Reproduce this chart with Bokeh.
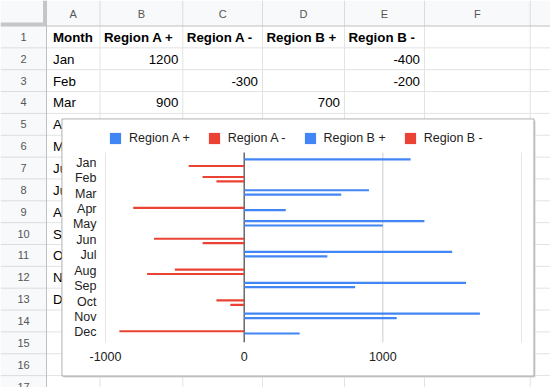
from bokeh.plotting import figure
from bokeh.models import (Range1d, ColumnDataSource, Legend, LegendItem, FixedTicker)
from bokeh.transform import dodge
from bokeh.layouts import column
from bokeh.core.properties import value
from bokeh.embed import file_html
from bokeh.resources import INLINE

# ---------------- data ----------------
months = ["Jan", "Feb", "Mar", "Apr", "May", "Jun", "Jul", "Aug", "Sep", "Oct", "Nov", "Dec"]
region_a_pos = [1200, None, 900, None, 1300, None, 1500, None, 1600, None, 1700, None]
region_a_neg = [None, -300, None, -800, None, -650, None, -500, None, -200, None, -900]
region_b_pos = [None, None, 700, 300, 1000, None, 600, None, 800, None, 1100, 400]
region_b_neg = [-400, -200, None, None, None, -300, None, -700, None, -100, None, None]
series_names = ["Region A +", "Region A -", "Region B +", "Region B -"]
series_colors = ["#4285F4", "#EA4335", "#4285F4", "#EA4335"]
x_ticks = [-1000, 0, 1000, 2000]
x_tick_labels = ["-1000", "0", "1000", ""]
column_letters = ["A", "B", "C", "D", "E", "F"]
header_label = "Month"

series_values = [region_a_pos, region_a_neg, region_b_pos, region_b_neg]

FONT = "Liberation Sans"

# ---------------- spreadsheet backdrop (page pixel space) ----------------
col_widths = [46, 53.5, 82.8, 79.7, 82, 80, 105.7, 40]
header_h = 25.5
row_h = 21.85
n_rows = 17
col_edges = [0.0]
for w in col_widths:
    col_edges.append(col_edges[-1] + w)
row_edges = [header_h + i * row_h for i in range(n_rows + 1)]
box_l, box_r, box_t, box_b = 61.5, 533.5, 118.5, 375.5

page_w, page_h = 550, 387
sheet = figure(width=page_w, height=page_h, x_range=Range1d(0, page_w), y_range=Range1d(page_h, 0),
               x_axis_location=None, y_axis_location=None, toolbar_location=None,
               output_backend="svg", min_border=0, outline_line_color=None,
               background_fill_color="white", border_fill_color="white")
sheet.grid.visible = False

hdr_fill = "#f8f9fa"
sheet.quad(left=[col_edges[1]], right=[col_edges[-1]], top=[0], bottom=[header_h],
           fill_color=hdr_fill, line_color=None)
sheet.quad(left=[0], right=[col_edges[1]], top=[0], bottom=[row_edges[-1]],
           fill_color=hdr_fill, line_color=None)

# cell grid
vx0, vy0, vx1, vy1 = [], [], [], []
for e in col_edges[2:]:
    vx0.append(e); vx1.append(e); vy0.append(header_h); vy1.append(row_edges[-1])
for e in row_edges[1:]:
    vx0.append(col_edges[1]); vx1.append(col_edges[-1]); vy0.append(e); vy1.append(e)
sheet.segment(x0=vx0, y0=vy0, x1=vx1, y1=vy1, line_color="#e2e3e3", line_width=1)
# header separators
hx0, hy0, hx1, hy1 = [], [], [], []
for e in col_edges[2:]:
    hx0.append(e); hx1.append(e); hy0.append(0); hy1.append(header_h)
for e in row_edges[1:]:
    hx0.append(0); hx1.append(col_edges[1]); hy0.append(e); hy1.append(e)
sheet.segment(x0=hx0, y0=hy0, x1=hx1, y1=hy1, line_color="#dadce0", line_width=1)
sheet.segment(x0=[0, col_edges[1]], y0=[header_h, 0], x1=[col_edges[-1], col_edges[1]],
              y1=[header_h, row_edges[-1]], line_color="#c0c0c0", line_width=1)
# corner freeze handles
sheet.quad(left=[0, col_edges[1] - 3.5], right=[col_edges[1], col_edges[1]],
           top=[header_h - 3.5, 0], bottom=[header_h, header_h],
           fill_color="#c4c7c5", line_color=None)

# header letters and row numbers
sheet.text(x=[(col_edges[i + 1] + col_edges[i + 2]) / 2 for i in range(len(column_letters))],
           y=[header_h / 2 + 0.5] * len(column_letters), text=column_letters,
           text_font=value(FONT), text_font_size="11px", text_color="#555555",
           text_align="center", text_baseline="middle")
row_nums = [str(i + 1) for i in range(n_rows)]
sheet.text(x=[col_edges[1] / 2] * n_rows,
           y=[(row_edges[i] + row_edges[i + 1]) / 2 for i in range(n_rows)],
           text=row_nums, text_font=value(FONT), text_font_size="11px",
           text_color="#555555", text_align="center", text_baseline="middle")

# table header row (bold)
hdr_texts = [header_label] + series_names
hdr_x = [col_edges[1] + 6.5] + [col_edges[2 + i] + 4 for i in range(len(series_names))]
sheet.text(x=hdr_x, y=[(row_edges[0] + row_edges[1]) / 2 + 0.5] * len(hdr_texts), text=hdr_texts,
           text_font=value(FONT), text_font_size="13.3px", text_font_style="bold",
           text_color="#000000", text_align="left", text_baseline="middle")
# month column
sheet.text(x=[col_edges[1] + 6.5] * len(months),
           y=[(row_edges[i + 1] + row_edges[i + 2]) / 2 + 0.5 for i in range(len(months))],
           text=months, text_font=value(FONT), text_font_size="13.3px",
           text_color="#000000", text_align="left", text_baseline="middle")
# values of rows not covered by the chart
val_x, val_y, val_t = [], [], []
for r in range(len(months)):
    if row_edges[r + 2] > box_t:
        continue
    for c, ser in enumerate(series_values):
        v = ser[r]
        if v is None:
            continue
        val_x.append(col_edges[3 + c] - 4.5)
        val_y.append((row_edges[r + 1] + row_edges[r + 2]) / 2 + 0.5)
        val_t.append(str(v))
sheet.text(x=val_x, y=val_y, text=val_t, text_font=value(FONT), text_font_size="13.3px",
           text_color="#000000", text_align="right", text_baseline="middle")

# chart box with shadow
sheet.quad(left=[box_l + 1.5], right=[box_r + 1.5], top=[box_t + 1.5], bottom=[box_b + 1.5],
           fill_color="#d6d6d6", line_color=None)
sheet.quad(left=[box_l], right=[box_r], top=[box_t], bottom=[box_b],
           fill_color="white", line_color="#a6a6a6", line_width=1)

# ---------------- chart ----------------
chart_left, chart_top = 62, 119
chart_w, chart_h = 471, 256
b_left, b_right, b_top, b_bottom = 43, 12, 5, 33
frame_h = chart_h - b_top - b_bottom
band_px = 15.43           # pixel height of one month band
pad = 0.155               # padding (in bands) below Dec and above Jan
n = len(months)
y_pos = [n - 1 - i + 0.5 for i in range(n)]      # Jan on top
y_end = -pad + frame_h / band_px                  # room above for the legend

p = figure(width=chart_w, height=chart_h, x_range=Range1d(-1000, 2000),
           y_range=Range1d(-pad, y_end),
           toolbar_location=None, output_backend="svg",
           min_border_left=b_left, min_border_right=b_right,
           min_border_top=b_top, min_border_bottom=b_bottom,
           outline_line_color=None, background_fill_color="white", border_fill_color="white",
           styles={"position": "absolute", "left": f"{chart_left}px",
                   "top": f"{chart_top}px", "z-index": "10"})
p.grid.visible = False

# vertical gridlines and zero baseline, spanning the month bands only
p.segment(x0=x_ticks, x1=x_ticks, y0=[-pad] * len(x_ticks), y1=[n + pad] * len(x_ticks),
          line_color="#cccccc", line_width=1)
p.segment(x0=[0], x1=[0], y0=[-pad], y1=[n + pad], line_color="#333333", line_width=1)

slot = 0.1426
offsets = [1.5 * slot, 0.5 * slot, -0.5 * slot, -1.5 * slot]
renderers = []
for name, vals, col, off in zip(series_names, series_values, series_colors, offsets):
    src = ColumnDataSource(dict(ypos=y_pos,
                                val=[float("nan") if v is None else v for v in vals]))
    r = p.hbar(y=dodge("ypos", off), left=0, right="val", height=0.14,
               source=src, fill_color=col, line_color=None)
    renderers.append(r)

p.xaxis.ticker = FixedTicker(ticks=x_ticks)
p.xaxis.major_label_overrides = {t: l for t, l in zip(x_ticks, x_tick_labels)}
p.yaxis.ticker = FixedTicker(ticks=y_pos)
p.yaxis.major_label_overrides = {yp: m for yp, m in zip(y_pos, months)}
for ax in (p.xaxis, p.yaxis):
    ax.axis_line_color = None
    ax.major_tick_line_color = None
    ax.minor_tick_line_color = None
    ax.major_label_text_font = FONT
    ax.major_label_text_font_size = "12.5px"
    ax.major_label_text_color = "#222222"
p.xaxis.major_label_standoff = 3
p.yaxis.major_label_standoff = 3

legend = Legend(items=[LegendItem(label=nm, renderers=[r]) for nm, r in zip(series_names, renderers)],
                orientation="horizontal", location=(3, 197), margin=0, padding=0,
                spacing=17, glyph_width=14, glyph_height=14, label_standoff=7,
                label_height=14, label_width=10,
                label_text_font=FONT, label_text_font_size="12.5px", label_text_color="#222222",
                border_line_color=None, background_fill_alpha=0)
p.add_layout(legend, "center")

sheet_box = column(sheet)
page = column(sheet_box, p, styles={"position": "relative"})
open("out.html", "w").write(file_html(page, INLINE))
